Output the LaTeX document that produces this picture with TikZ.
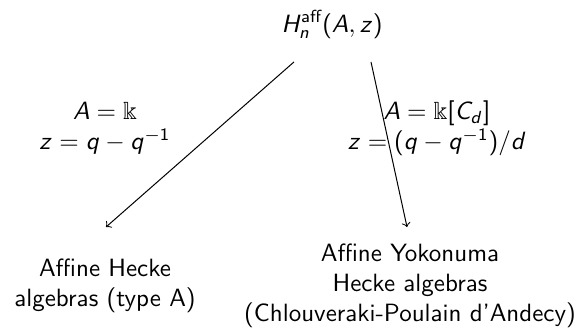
\documentclass[tikz,border=0pt]{standalone}
\usepackage{amsmath,amssymb}
\usepackage{tikz}
\DeclareSymbolFont{sfletters}{OT1}{cmss}{m}{sl}
\DeclareSymbolFont{sfupright}{OT1}{cmss}{m}{n}
\DeclareMathSymbol{A}{\mathalpha}{sfletters}{`A}
\DeclareMathSymbol{C}{\mathalpha}{sfletters}{`C}
\DeclareMathSymbol{H}{\mathalpha}{sfletters}{`H}
\DeclareMathSymbol{d}{\mathalpha}{sfletters}{`d}
\DeclareMathSymbol{n}{\mathalpha}{sfletters}{`n}
\DeclareMathSymbol{q}{\mathalpha}{sfletters}{`q}
\DeclareMathSymbol{z}{\mathalpha}{sfletters}{`z}
\DeclareMathSymbol{1}{\mathalpha}{sfupright}{`1}
\DeclareMathSymbol{(}{\mathopen}{sfupright}{`(}
\DeclareMathSymbol{)}{\mathclose}{sfupright}{`)}
\DeclareMathSymbol{[}{\mathopen}{sfupright}{`[}
\DeclareMathSymbol{]}{\mathclose}{sfupright}{`]}
\DeclareMathSymbol{/}{\mathord}{sfupright}{`/}

\begin{document}
\begin{tikzpicture}[every node/.style={font=\sffamily, inner sep=0pt}]
\useasboundingbox (0.000,0.000) rectangle (8.223,-4.653);
\coordinate (L0) at (4.132,-0.871);
\coordinate (L1) at (1.490,-3.191);
\coordinate (R0) at (5.215,-0.871);
\coordinate (R1) at (5.721,-3.191);
\draw[->] (L0) -- (L1);
\draw[->] (R0) -- (R1);
\node[anchor=base] (Haff) at (4.667,-0.450) {$H_n^{\text{aff}}(A,z)$};
\node[align=center] (labHecke) at (1.476,-1.806) {$A=\Bbbk$\\ $z=q-q^{-1}$};
\node[align=center] (labYoko) at (6.142,-1.806) {$A=\Bbbk[C_d]$\\ $z=(q-q^{-1})/d$};
\node[align=center] (Hecke) at (1.476,-4.020) {Affine Hecke\\ algebras (type A)};
\node[align=center] (Yoko) at (5.763,-4.020) {Affine Yokonuma\\ Hecke algebras\\ (Chlouveraki-Poulain d'Andecy)};
\end{tikzpicture}
\end{document}
